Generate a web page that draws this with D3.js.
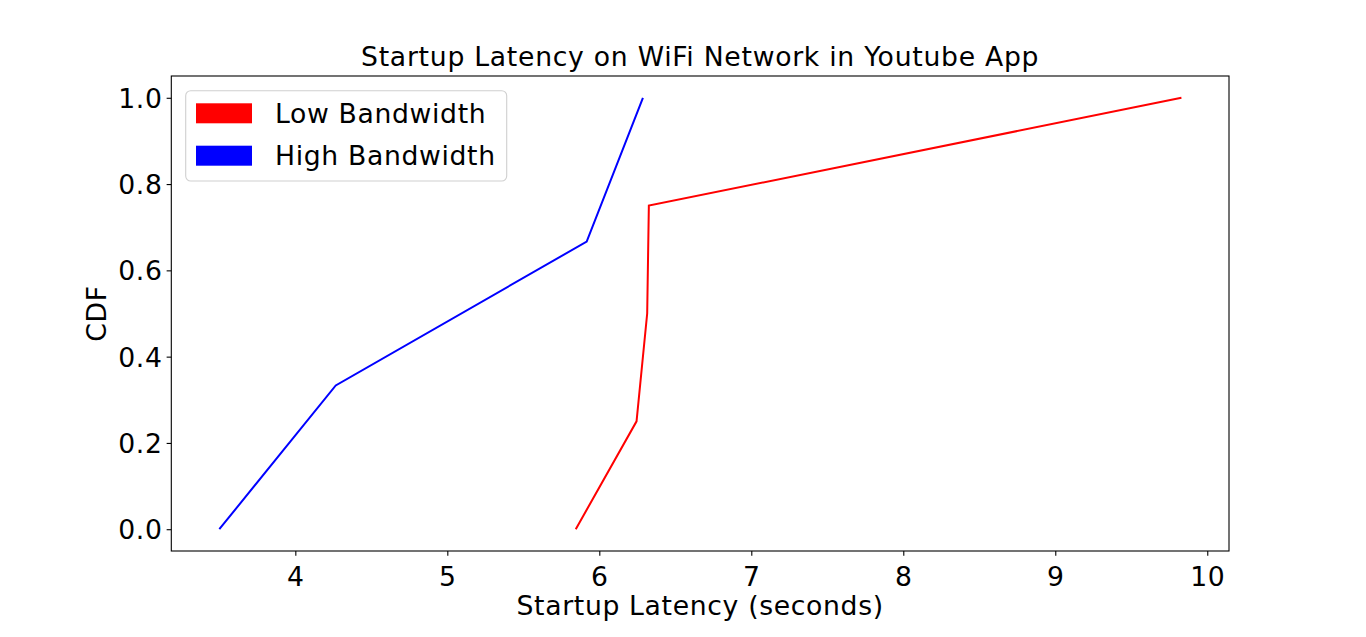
<!DOCTYPE html>
<html><head><meta charset="utf-8">
<script src="https://cdn.jsdelivr.net/npm/d3@7"></script>
<style>
html,body{margin:0;padding:0;background:#fff;}
text{font-family:"DejaVu Sans",sans-serif;fill:#000;}
</style></head>
<body>
<svg id="chart" width="1366" height="637"></svg>
<script>
const lowX = [5.845, 6.245, 6.315, 6.326, 9.83];
const lowY = [0, 0.25, 0.5, 0.75, 1.0];
const highX = [3.5, 4.266, 5.917, 6.287];
const highY = [0, 0.3333, 0.6667, 1.0];
const xTicks = [4, 5, 6, 7, 8, 9, 10];
const yTicks = [0.0, 0.2, 0.4, 0.6, 0.8, 1.0];
const seriesNames = ["Low Bandwidth", "High Bandwidth"];
const seriesColors = ["#ff0000", "#0000ff"];

const svg = d3.select("#chart");
const L = 171.3, R = 1229, T = 76, B = 551;
const x = d3.scaleLinear().domain([3.184, 10.143]).range([L, R]);
const y = d3.scaleLinear().domain([-0.0505, 1.0505]).range([B, T]);
const fs = 26.67;
const ls = "0.65px";

// axes
const xa = svg.append("g").attr("transform", `translate(0,${B})`)
  .call(d3.axisBottom(x).tickValues(xTicks).tickFormat(d3.format("d")).tickSize(4.67).tickPadding(4.67));
const ya = svg.append("g").attr("transform", `translate(${L},0)`)
  .call(d3.axisLeft(y).tickValues(yTicks).tickFormat(d3.format(".1f")).tickSize(4.67).tickPadding(4.67));
[xa, ya].forEach(g => {
  g.select(".domain").remove();
  g.selectAll(".tick line").attr("stroke", "#000").attr("stroke-width", 1.1);
  g.selectAll(".tick text").style("font-size", fs + "px").style("font-family", "DejaVu Sans")
    .style("letter-spacing", "0.6px");
});
xa.selectAll(".tick text").attr("dy", "0.95em");
ya.selectAll(".tick text").attr("dy", "0.36em").attr("dx", "0.5");

const line = d3.line().x(d => x(d[0])).y(d => y(d[1]));
const lowData = lowX.map((v, i) => [v, lowY[i]]);
const highData = highX.map((v, i) => [v, highY[i]]);
svg.append("path").datum(lowData).attr("d", line).attr("fill", "none")
  .attr("stroke", seriesColors[0]).attr("stroke-width", 2).attr("stroke-linejoin", "miter");
svg.append("path").datum(highData).attr("d", line).attr("fill", "none")
  .attr("stroke", seriesColors[1]).attr("stroke-width", 2).attr("stroke-linejoin", "miter");

// frame
svg.append("rect").attr("x", L).attr("y", T).attr("width", R - L).attr("height", B - T)
  .attr("fill", "none").attr("stroke", "#000").attr("stroke-width", 1.1);

// title & labels
svg.append("text").attr("x", (L + R) / 2).attr("y", 66).attr("text-anchor", "middle")
  .style("font-size", fs + "px").style("letter-spacing", "0.72px")
  .text("Startup Latency on WiFi Network in Youtube App");
svg.append("text").attr("x", (L + R) / 2).attr("y", 615).attr("text-anchor", "middle")
  .style("font-size", fs + "px").style("letter-spacing", ls).text("Startup Latency (seconds)");
svg.append("text").attr("transform", `translate(105.5,${(T + B) / 2}) rotate(-90)`).attr("text-anchor", "middle")
  .style("font-size", fs + "px").style("letter-spacing", ls).text("CDF");

// legend
const lg = svg.append("g");
lg.append("rect").attr("x", 185.7).attr("y", 90.7).attr("width", 321).attr("height", 90.3)
  .attr("rx", 5).attr("fill", "#fff").attr("fill-opacity", 0.8).attr("stroke", "#d0d0d0").attr("stroke-width", 1.1);
seriesNames.forEach((n, i) => {
  const yy = 103.3 + i * 42.4;
  lg.append("rect").attr("x", 196).attr("y", yy).attr("width", 56).attr("height", 20).attr("fill", seriesColors[i]);
  lg.append("text").attr("x", 275).attr("y", yy + 19.5).style("font-size", fs + "px").style("letter-spacing", ls).text(n);
});
</script>
</body></html>
